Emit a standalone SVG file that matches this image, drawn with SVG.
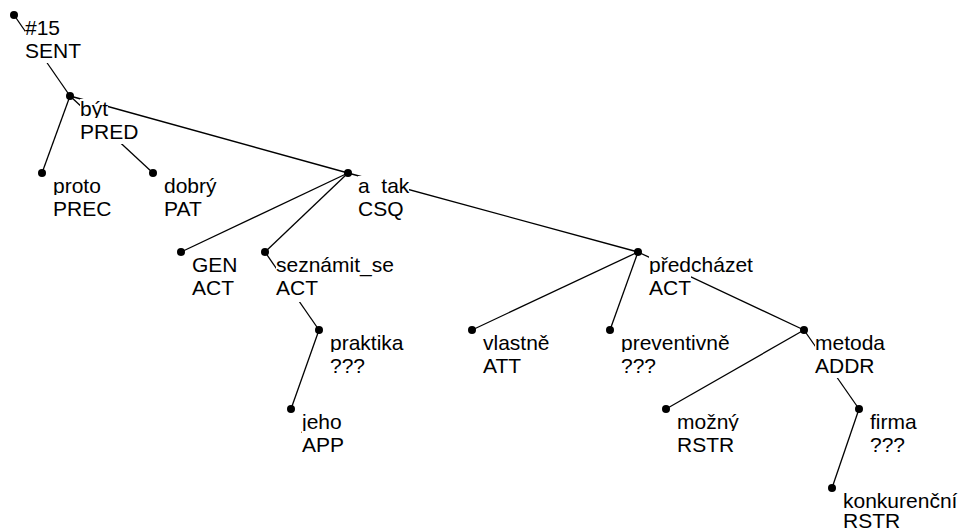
<svg xmlns="http://www.w3.org/2000/svg" width="958" height="530" viewBox="0 0 958 530">
  <style>
    .edge { stroke: #000; stroke-width: 1.3; fill: none; }
    .dot { fill: #000; }
    .bg { fill: #fff; }
    text { font-family: "Liberation Sans", Arial, sans-serif; font-size: 21px; fill: #000; }
  </style>
  <rect width="958" height="530" fill="#fff"/>

  <!-- dependency edges: parent dot to child dot -->
  <g id="edges">
    <line class="edge" x1="14" y1="15" x2="70" y2="96"/>
    <line class="edge" x1="70" y1="96" x2="42" y2="173"/>
    <line class="edge" x1="70" y1="96" x2="153" y2="173"/>
    <line class="edge" x1="70" y1="96" x2="348" y2="173"/>
    <line class="edge" x1="348" y1="173" x2="181" y2="252"/>
    <line class="edge" x1="348" y1="173" x2="265" y2="252"/>
    <line class="edge" x1="348" y1="173" x2="638" y2="252"/>
    <line class="edge" x1="265" y1="252" x2="319" y2="330"/>
    <line class="edge" x1="319" y1="330" x2="291" y2="409"/>
    <line class="edge" x1="638" y1="252" x2="472" y2="330"/>
    <line class="edge" x1="638" y1="252" x2="610" y2="330"/>
    <line class="edge" x1="638" y1="252" x2="804" y2="330"/>
    <line class="edge" x1="804" y1="330" x2="666" y2="409"/>
    <line class="edge" x1="804" y1="330" x2="859" y2="409"/>
    <line class="edge" x1="859" y1="409" x2="832" y2="488"/>
  </g>

  <!-- nodes: dot, then two-line label on opaque boxes -->
  <g id="n-root">
    <circle class="dot" cx="14" cy="15" r="4"/>
    <rect class="bg" x="25" y="18" width="35" height="21"/>
    <text x="25" y="35">#15</text>
    <rect class="bg" x="25" y="37" width="56" height="26"/>
    <text x="25" y="58">SENT</text>
  </g>
  <g id="n-byt">
    <circle class="dot" cx="70" cy="96" r="4"/>
    <rect class="bg" x="80" y="99" width="28" height="21"/>
    <text x="80" y="116">být</text>
    <rect class="bg" x="80" y="118" width="58" height="26"/>
    <text x="80" y="139">PRED</text>
  </g>
  <g id="n-proto">
    <circle class="dot" cx="42" cy="173" r="4"/>
    <rect class="bg" x="53" y="176" width="48" height="21"/>
    <text x="53" y="193">proto</text>
    <rect class="bg" x="53" y="195" width="58" height="26"/>
    <text x="53" y="216">PREC</text>
  </g>
  <g id="n-dobry">
    <circle class="dot" cx="153" cy="173" r="4"/>
    <rect class="bg" x="164" y="176" width="53" height="21"/>
    <text x="164" y="193">dobrý</text>
    <rect class="bg" x="164" y="195" width="41" height="26"/>
    <text x="164" y="216">PAT</text>
  </g>
  <g id="n-a_tak">
    <circle class="dot" cx="348" cy="173" r="4"/>
    <rect class="bg" x="358" y="176" width="51" height="21"/>
    <text x="358" y="193">a_tak</text>
    <rect class="bg" x="358" y="195" width="46" height="26"/>
    <text x="358" y="216">CSQ</text>
  </g>
  <g id="n-gen">
    <circle class="dot" cx="181" cy="252" r="4"/>
    <rect class="bg" x="192" y="255" width="46" height="21"/>
    <text x="192" y="272">GEN</text>
    <rect class="bg" x="192" y="274" width="42" height="26"/>
    <text x="192" y="295">ACT</text>
  </g>
  <g id="n-seznamit_se">
    <circle class="dot" cx="265" cy="252" r="4"/>
    <rect class="bg" x="276" y="255" width="118" height="21"/>
    <text x="276" y="272">seznámit_se</text>
    <rect class="bg" x="276" y="274" width="42" height="28"/>
    <text x="276" y="295">ACT</text>
  </g>
  <g id="n-praktika">
    <circle class="dot" cx="319" cy="330" r="4"/>
    <rect class="bg" x="330" y="333" width="74" height="21"/>
    <text x="330" y="350">praktika</text>
    <rect class="bg" x="330" y="352" width="35" height="26"/>
    <text x="330" y="373">???</text>
  </g>
  <g id="n-jeho">
    <circle class="dot" cx="291" cy="409" r="4"/>
    <rect class="bg" x="302" y="412" width="40" height="21"/>
    <text x="302" y="429">jeho</text>
    <rect class="bg" x="302" y="431" width="42" height="26"/>
    <text x="302" y="452">APP</text>
  </g>
  <g id="n-predchazet">
    <circle class="dot" cx="638" cy="252" r="4"/>
    <rect class="bg" x="649" y="255" width="104" height="21"/>
    <text x="649" y="272">předcházet</text>
    <rect class="bg" x="649" y="274" width="42" height="26"/>
    <text x="649" y="295">ACT</text>
  </g>
  <g id="n-vlastne">
    <circle class="dot" cx="472" cy="330" r="4"/>
    <rect class="bg" x="483" y="333" width="67" height="21"/>
    <text x="483" y="350">vlastně</text>
    <rect class="bg" x="483" y="352" width="40" height="26"/>
    <text x="483" y="373">ATT</text>
  </g>
  <g id="n-preventivne">
    <circle class="dot" cx="610" cy="330" r="4"/>
    <rect class="bg" x="621" y="333" width="109" height="21"/>
    <text x="621" y="350">preventivně</text>
    <rect class="bg" x="621" y="352" width="35" height="26"/>
    <text x="621" y="373">???</text>
  </g>
  <g id="n-metoda">
    <circle class="dot" cx="804" cy="330" r="4"/>
    <rect class="bg" x="815" y="333" width="70" height="21"/>
    <text x="815" y="350">metoda</text>
    <rect class="bg" x="815" y="352" width="60" height="26"/>
    <text x="815" y="373">ADDR</text>
  </g>
  <g id="n-mozny">
    <circle class="dot" cx="666" cy="409" r="4"/>
    <rect class="bg" x="677" y="412" width="62" height="21"/>
    <text x="677" y="429">možný</text>
    <rect class="bg" x="677" y="431" width="57" height="26"/>
    <text x="677" y="452">RSTR</text>
  </g>
  <g id="n-firma">
    <circle class="dot" cx="859" cy="409" r="4"/>
    <rect class="bg" x="870" y="412" width="47" height="21"/>
    <text x="870" y="429">firma</text>
    <rect class="bg" x="870" y="431" width="35" height="26"/>
    <text x="870" y="452">???</text>
  </g>
  <g id="n-konkurencni">
    <circle class="dot" cx="832" cy="488" r="4"/>
    <rect class="bg" x="843" y="491" width="114" height="21"/>
    <text x="843" y="508">konkurenční</text>
    <rect class="bg" x="843" y="510" width="57" height="20"/>
    <text x="843" y="528">RSTR</text>
  </g>
</svg>
